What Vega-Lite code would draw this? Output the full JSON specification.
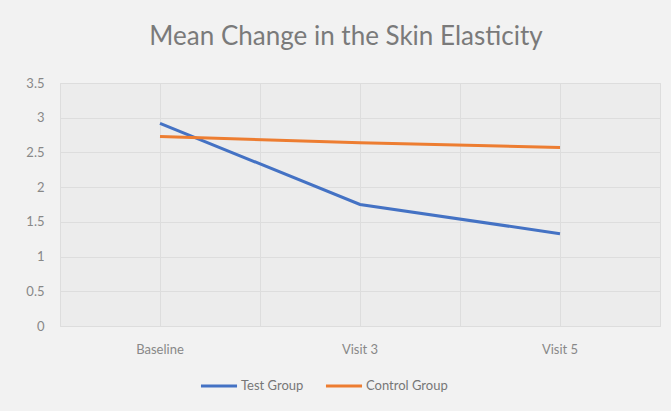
{
  "$schema": "https://vega.github.io/schema/vega-lite/v6.json",
  "width": 600,
  "height": 243,
  "autosize": {"type": "none"},
  "padding": {"left": 60, "top": 83, "right": 11, "bottom": 85},
  "background": "#f2f2f2",
  "title": {
    "text": "Mean Change in the Skin Elasticity",
    "font": "Lato",
    "fontSize": 26,
    "fontWeight": "normal",
    "color": "#7a7a7a",
    "anchor": "middle",
    "baseline": "alphabetic",
    "frame": "group",
    "dx": -14,
    "offset": 6
  },
  "config": {
    "view": {"fill": "#ececec", "stroke": "#dcdcdc"},
    "axis": {"labelFont": "Lato", "labelColor": "#888888", "labelFontSize": 13, "gridColor": "#dddddd", "gridWidth": 1}
  },
  "data": {
    "values": [
      {"visit": "Baseline", "group": "Test Group", "value": 2.92},
      {"visit": "Visit 3", "group": "Test Group", "value": 1.75},
      {"visit": "Visit 5", "group": "Test Group", "value": 1.33},
      {"visit": "Baseline", "group": "Control Group", "value": 2.73},
      {"visit": "Visit 3", "group": "Control Group", "value": 2.64},
      {"visit": "Visit 5", "group": "Control Group", "value": 2.57}
    ]
  },
  "encoding": {
    "y": {
      "field": "value",
      "type": "quantitative",
      "scale": {"domain": [0, 3.5], "nice": false},
      "axis": {"title": null, "values": [0, 0.5, 1, 1.5, 2, 2.5, 3, 3.5], "format": "~g", "domain": false, "ticks": false, "labelPadding": 16}
    },
    "color": {
      "field": "group",
      "type": "nominal",
      "scale": {"domain": ["Test Group", "Control Group"], "range": ["#4472C4", "#ED7D31"]},
      "legend": {
        "title": null,
        "orient": "none",
        "legendX": 139,
        "legendY": 283,
        "direction": "horizontal",
        "symbolType": "stroke",
        "symbolSize": 1300,
        "symbolStrokeWidth": 3,
        "labelFont": "Lato",
        "labelFontSize": 13,
        "labelColor": "#777777",
        "labelOffset": 2,
        "columnPadding": 15
      }
    }
  },
  "layer": [
    {
      "mark": {"type": "line", "opacity": 0},
      "encoding": {
        "x": {
          "field": "visit",
          "type": "nominal",
          "sort": ["Baseline", "Visit 3", "Visit 5"],
          "scale": {"type": "band", "paddingInner": 0, "paddingOuter": 0},
          "axis": {"orient": "top", "title": null, "labels": false, "ticks": false, "domain": false, "grid": true, "tickBand": "extent"}
        }
      }
    },
    {
      "mark": {"type": "line", "strokeWidth": 3},
      "encoding": {
        "x": {
          "field": "visit",
          "type": "nominal",
          "sort": ["Baseline", "Visit 3", "Visit 5"],
          "scale": {"type": "band", "paddingInner": 0, "paddingOuter": 0},
          "axis": {"orient": "bottom", "title": null, "labelAngle": 0, "ticks": false, "domain": false, "grid": true, "labelPadding": 17}
        }
      }
    }
  ],
  "resolve": {"axis": {"x": "independent"}}
}
